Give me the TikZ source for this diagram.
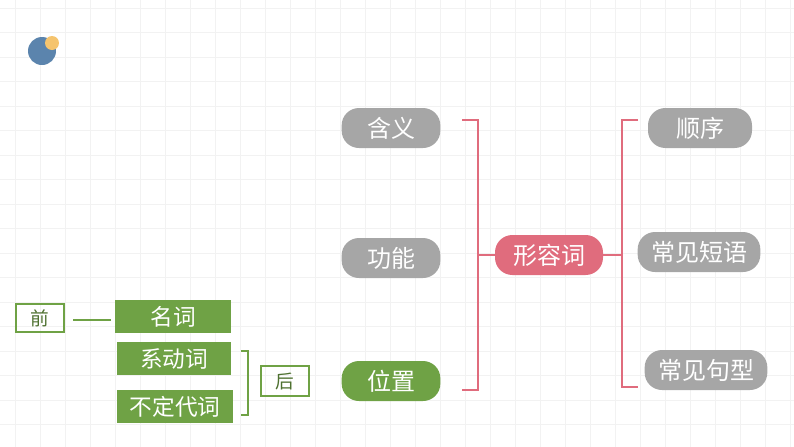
\documentclass[tikz,border=0pt]{standalone}
\usepackage{fontspec}
\newfontfamily\cjk{Noto Sans CJK SC}
\definecolor{gr}{HTML}{A6A6A6}
\definecolor{gn}{HTML}{6FA245}
\definecolor{rd}{HTML}{E06C7D}
\definecolor{bl}{HTML}{5B84AD}
\definecolor{yl}{HTML}{F5C46E}
\begin{document}
\begin{tikzpicture}[x=0.75pt,y=-0.75pt,
 pill/.style={rounded corners=13pt,fill=gr,text=white,font=\cjk\fontsize{18}{18}\selectfont,minimum height=30pt,inner sep=0pt},
 gbox/.style={fill=gn,text=white,font=\cjk\fontsize{17}{17}\selectfont,inner sep=0pt},
 obox/.style={draw=gn,line width=1.5pt,text=gn!70!black,font=\cjk\fontsize{14}{14}\selectfont,inner sep=0pt}]
\useasboundingbox (0,0) rectangle (794,447);
\foreach \x in {15,40,...,794} \draw[black!5] (\x,0) -- (\x,447);
\foreach \y in {8,32.5,...,447} \draw[black!5] (0,\y) -- (794,\y);
\fill[bl] (42,51) circle (14);
\fill[yl] (52,43) circle (7);
\node[pill,minimum width=74pt] (hy) at (391,128) {含义};
\node[pill,minimum width=74pt] (gn) at (391,258) {功能};
\node[pill,minimum width=74pt,fill=gn] (wz) at (391,381) {位置};
\node[pill,minimum width=81pt,fill=rd] (xr) at (549,255) {形容词};
\node[pill,minimum width=78pt] (sx) at (700,128) {顺序};
\node[pill,minimum width=92pt] (dy) at (699,252) {常见短语};
\node[pill,minimum width=92pt] (jx) at (706,370) {常见句型};
\draw[rd,line width=1.2pt] (462,120) -- (478,120) -- (478,390) -- (462,390);
\draw[rd,line width=1.2pt] (478,255) -- (xr.west);
\draw[rd,line width=1.2pt] (xr.east) -- (622,255);
\draw[rd,line width=1.2pt] (638,120) -- (622,120) -- (622,387) -- (638,387);
\node[obox,minimum width=36pt,minimum height=21pt] (q) at (39.5,318) {前};
\node[gbox,minimum width=87pt,minimum height=25pt] (mc) at (173,316.5) {名词};
\node[gbox,minimum width=85.5pt,minimum height=25pt] (xd) at (174,358.5) {系动词};
\node[gbox,minimum width=87pt,minimum height=25pt] (bd) at (175,406.5) {不定代词};
\node[obox,minimum width=36pt,minimum height=22pt] (h) at (284.5,381) {后};
\draw[gn,line width=2pt] (73,320) -- (111,320);
\draw[gn,line width=1.5pt] (241,351) -- (248,351) -- (248,415) -- (241,415);
\end{tikzpicture}
\end{document}
